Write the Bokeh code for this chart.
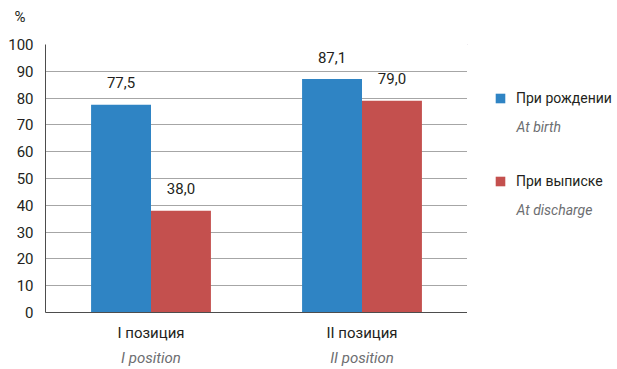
from bokeh.plotting import figure
from bokeh.layouts import row
from bokeh.models import (FactorRange, Range1d, Legend, LegendItem, Label,
                          CategoricalAxis, ColumnDataSource, FixedTicker)
from bokeh.transform import dodge
from bokeh.core.properties import value
from bokeh.embed import file_html
from bokeh.resources import INLINE

categories = ["I позиция", "II позиция"]
categories_en = ["I position", "II position"]
at_birth = [77.5, 87.1]
at_discharge = [38.0, 79.0]
series_ru = ["При рождении", "При выписке"]
series_en = ["At birth", "At discharge"]
y_ticks = [0, 10, 20, 30, 40, 50, 60, 70, 80, 90, 100]

FONT = "Roboto"
FS = "15px"
FS_LEG = "14px"
BLUE = "#2F84C4"
RED = "#C4504E"
DARK = "#231F20"
GRAY = "#6D6E71"
AXIS = "#4D4D4D"

fmt = lambda v: f"{v:.1f}".replace(".", ",")
src = ColumnDataSource(dict(
    cat=categories, birth=at_birth, discharge=at_discharge,
    birth_lbl=[fmt(v) for v in at_birth],
    dis_lbl=[fmt(v) for v in at_discharge],
))

p = figure(x_range=FactorRange(*categories), y_range=Range1d(0, 100),
           width=467, height=369, output_backend="svg", toolbar_location=None,
           min_border_left=45, min_border_right=0, min_border_top=44,
           min_border_bottom=57, title="%\n")
p.outline_line_color = None
p.title.align = "left"
p.title.vertical_align = "bottom"
p.title.offset = -31
p.title.standoff = 2
p.title.text_font = FONT
p.title.text_font_size = FS
p.title.text_font_style = "normal"
p.title.text_color = DARK

W = 0.284
r1 = p.vbar(x=dodge("cat", -W / 2, range=p.x_range), top="birth", width=W,
            source=src, fill_color=BLUE, line_color=None)
r2 = p.vbar(x=dodge("cat", W / 2, range=p.x_range), top="discharge", width=W,
            source=src, fill_color=RED, line_color=None)

for col, lbl, off in [("birth", "birth_lbl", -W / 2), ("discharge", "dis_lbl", W / 2)]:
    p.text(x=dodge("cat", off, range=p.x_range), y=col, text=lbl, source=src,
           text_align="center", text_baseline="middle", y_offset=-22,
           text_font=value(FONT), text_font_size=FS, text_color=DARK)

p.xgrid.grid_line_color = None
p.ygrid.ticker = FixedTicker(ticks=y_ticks)
p.ygrid.grid_line_color = "#A6A6A6"
p.ygrid.grid_line_width = 1

ya = p.yaxis[0]
ya.ticker = FixedTicker(ticks=y_ticks)
ya.axis_line_color = AXIS
ya.major_tick_line_color = None
ya.minor_tick_line_color = None
ya.major_tick_out = 0
ya.major_tick_in = 0
ya.minor_tick_out = 0
ya.major_label_standoff = 12
ya.major_label_text_font = FONT
ya.major_label_text_font_size = FS
ya.major_label_text_color = DARK

xa = p.xaxis[0]
xa.axis_line_color = AXIS
xa.major_tick_line_color = None
xa.major_tick_out = 0
xa.major_tick_in = 0
xa.major_label_standoff = 11
xa.major_label_text_font = FONT
xa.major_label_text_font_size = FS
xa.major_label_text_color = DARK

p.extra_x_ranges = {"en": FactorRange(*categories_en)}
xa2 = CategoricalAxis(x_range_name="en", axis_line_color=None,
                      major_tick_line_color=None, major_tick_out=0, major_tick_in=0,
                      major_label_standoff=4,
                      major_label_text_font=FONT, major_label_text_font_size=FS,
                      major_label_text_font_style="italic",
                      major_label_text_color=GRAY)
p.add_layout(xa2, "below")

# legend panel: its frame is aligned with the chart frame (y 44..312, x 467..617)
lg = figure(width=150, height=369, x_range=Range1d(467, 617), y_range=Range1d(312, 44),
            output_backend="svg", toolbar_location=None, min_border=0,
            x_axis_location=None, y_axis_location=None)
lg.outline_line_color = None
lg.xgrid.visible = False
lg.ygrid.visible = False
lr1 = lg.vbar(x=[0], top=[0], width=0, fill_color=BLUE, line_color=None)
lr2 = lg.vbar(x=[0], top=[0], width=0, fill_color=RED, line_color=None)

legend = Legend(items=[LegendItem(label=series_ru[0], renderers=[lr1]),
                       LegendItem(label=series_ru[1], renderers=[lr2])],
                location=(27, 121), orientation="vertical",
                glyph_width=12, glyph_height=12, label_height=20,
                label_standoff=10, spacing=63, padding=0, margin=0,
                border_line_color=None, background_fill_alpha=0,
                label_text_font=FONT, label_text_font_size=FS_LEG,
                label_text_color=DARK)
lg.add_layout(legend, "center")

for txt, yy in zip(series_en, [126, 209]):
    lg.add_layout(Label(x=516, y=yy, text=txt,
                        text_font=FONT, text_font_size=FS_LEG,
                        text_font_style="italic", text_color=GRAY,
                        text_baseline="middle"))

layout = row(p, lg)
open("out.html", "w").write(file_html(layout, INLINE))
